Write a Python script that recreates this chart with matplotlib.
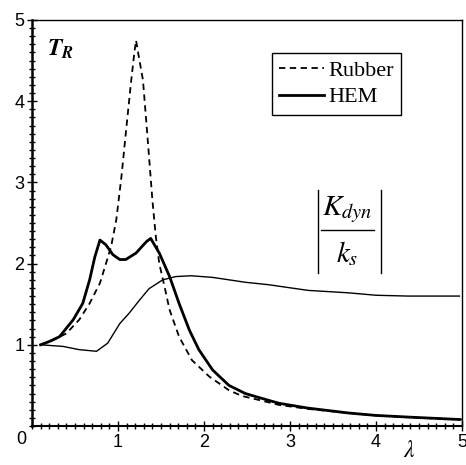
import numpy as np
import matplotlib.pyplot as plt
from matplotlib.ticker import MultipleLocator

plt.rcParams['mathtext.fontset'] = 'stix'

# values
rubber_x = [0.10, 0.25, 0.40, 0.55, 0.67, 0.79, 0.86, 0.92, 0.98, 1.04, 1.09,
            1.15, 1.19, 1.21, 1.23, 1.29, 1.34, 1.40, 1.44, 1.48, 1.54, 1.60,
            1.71, 1.86, 2.06, 2.29, 2.44, 2.64, 2.87, 3.21, 3.68, 4.00, 4.50,
            5.00]
rubber_y = [1.00, 1.06, 1.14, 1.31, 1.51, 1.76, 2.00, 2.21, 2.54, 3.07, 3.60,
            4.22, 4.60, 4.75, 4.62, 4.26, 3.60, 2.78, 2.33, 2.00, 1.72, 1.43,
            1.10, 0.81, 0.61, 0.44, 0.37, 0.32, 0.26, 0.21, 0.16, 0.13, 0.10,
            0.08]

hem_x = [0.10, 0.20, 0.32, 0.48, 0.59, 0.67, 0.73, 0.79, 0.86, 0.94, 1.02,
         1.09, 1.21, 1.33, 1.38, 1.48, 1.60, 1.71, 1.83, 1.94, 2.10, 2.29,
         2.48, 2.64, 2.87, 3.21, 3.68, 4.00, 4.37, 4.97]
hem_y = [1.00, 1.04, 1.10, 1.31, 1.51, 1.80, 2.08, 2.29, 2.23, 2.11, 2.05,
         2.05, 2.13, 2.27, 2.31, 2.13, 1.84, 1.51, 1.18, 0.94, 0.69, 0.50,
         0.40, 0.35, 0.28, 0.22, 0.16, 0.13, 0.11, 0.08]

kdyn_x = [0.10, 0.36, 0.55, 0.75, 0.88, 1.02, 1.13, 1.25, 1.36, 1.52, 1.67,
          1.85, 2.10, 2.29, 2.48, 2.75, 3.21, 3.68, 4.00, 4.37, 4.97]
kdyn_y = [1.00, 0.98, 0.94, 0.92, 1.02, 1.26, 1.39, 1.55, 1.69, 1.80, 1.84,
          1.85, 1.83, 1.80, 1.77, 1.74, 1.67, 1.64, 1.61, 1.60, 1.60]

xticks = [1, 2, 3, 4, 5]
yticks = [1, 2, 3, 4, 5]

fig = plt.figure(figsize=(4.66, 4.65), dpi=100)
ax = fig.add_axes([0.0687, 0.0839, 0.9227, 0.8731])

ax.plot(rubber_x, rubber_y, color='black', lw=1.3, dashes=(3.5, 2.5),
        label='Rubber')
ax.plot(hem_x, hem_y, color='black', lw=2.0, label='HEM')
ax.plot(kdyn_x, kdyn_y, color='black', lw=1.0)

ax.set_xlim(0, 5)
ax.set_ylim(0, 5)
ax.set_xticks(xticks)
ax.set_yticks(yticks)
ax.xaxis.set_minor_locator(MultipleLocator(0.1))
ax.yaxis.set_minor_locator(MultipleLocator(0.1))
ax.tick_params(which='major', direction='inout', length=7, width=1,
               labelsize=13, pad=2)
ax.tick_params(which='minor', direction='inout', length=4, width=1)
for lab in ax.get_xticklabels() + ax.get_yticklabels():
    lab.set_fontfamily('Liberation Sans')

ax.spines['left'].set_linewidth(1.8)
ax.spines['bottom'].set_linewidth(1.5)
ax.spines['top'].set_linewidth(1.0)
ax.spines['right'].set_linewidth(1.0)

ax.text(-0.06, -0.06, '0', fontsize=13, family='Liberation Sans',
        ha='right', va='top', clip_on=False)

ax.text(0.18, 4.64, r'$\mathbfit{T}_{\mathbfit{R}}$', fontsize=17,
        ha='left', va='center')

# |K_dyn / k_s| label, drawn as a stacked fraction between two bars
ax.text(3.67, 2.67, r'$K_{dyn}$', fontsize=21, ha='center', va='center')
ax.text(3.67, 2.12, r'$k_s$', fontsize=21, ha='center', va='center')
ax.plot([3.36, 3.98], [2.41, 2.41], color='black', lw=1.0)
ax.plot([3.33, 3.33], [1.88, 2.91], color='black', lw=1.0)
ax.plot([4.06, 4.06], [1.88, 2.91], color='black', lw=1.0)

ax.text(4.39, -0.30, r'$\lambda$', fontsize=17, ha='center', va='center',
        clip_on=False)

leg = ax.legend(loc='upper left', bbox_to_anchor=(0.557, 0.919),
                prop={'family': 'Liberation Serif', 'size': 16},
                handlelength=2.0, handletextpad=0.2, borderpad=0.35,
                labelspacing=0.25, fancybox=False, framealpha=1,
                borderaxespad=0)
leg.get_frame().set_edgecolor('black')
leg.get_frame().set_linewidth(1.0)

fig.savefig('out.png', dpi=100)
